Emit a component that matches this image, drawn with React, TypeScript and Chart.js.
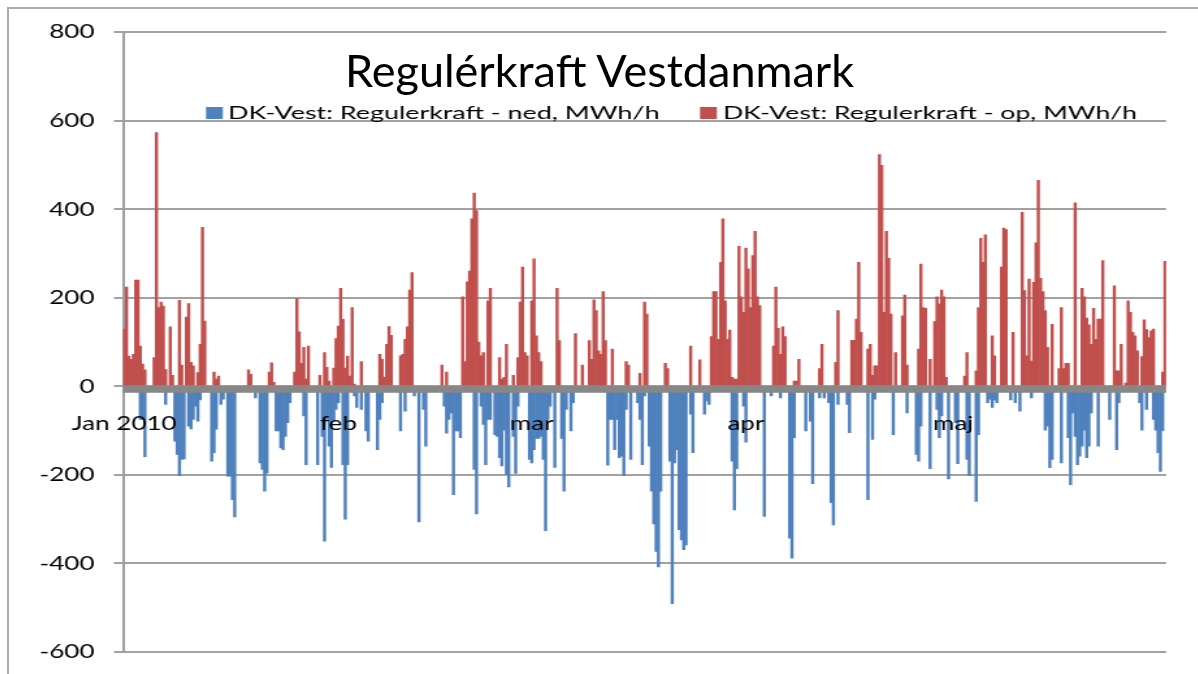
import { useEffect, useRef } from 'react';
import { Chart, registerables } from 'chart.js';

Chart.register(...registerables);

// ---------- data ----------
const monthNames = ['Jan 2010', 'feb', 'mar', 'apr', 'maj'];
const monthDays = [31, 28, 31, 30, 31];
const barsPerDay = 3;

const chartTitle = 'Regulérkraft Vestdanmark';
const legendDown = 'DK-Vest: Regulerkraft - ned, MWh/h';
const legendUp = 'DK-Vest: Regulerkraft - op, MWh/h';

const yMin = -600;
const yMax = 800;
const yStep = 200;

// Regulerkraft - op (MWh/h), per month
const upJan = [
  129, 224, 68, 61, 72, 240, 240, 91, 50, 37,
  0, 0, 0, 65, 573, 178, 190, 181, 38, 0,
  134, 25, 0, 0, 194, 48, 0, 156, 187, 54,
  46, 0, 31, 95, 359, 147, 0, 0, 0, 32,
  16, 23, 0, 0, 0, 0, 0, 0, 0, 0,
  0, 0, 0, 0, 37, 27, 0, 0, 0, 0,
  0, 0, 0, 32, 53, 9, 0, 0, 0, 0,
  0, 0, 0, 0, 32, 198, 123, 52, 88, 16,
  91, 0, 0, 0, 0, 25, 0, 76, 43, 12,
  0, 41, 108,
];
const upFeb = [
  136, 221, 151, 41, 68, 23, 178, 5, 0, 0,
  56, 0, 0, 0, 0, 0, 0, 0, 72, 61,
  21, 95, 135, 115, 0, 0, 0, 69, 72, 106,
  134, 217, 257, 0, 0, 0, 0, 0, 0, 0,
  0, 0, 0, 0, 0, 48, 0, 32, 0, 0,
  0, 0, 0, 0, 202, 56, 236, 260, 378, 436,
  397, 100, 69, 76, 0, 193, 221, 0, 0, 0,
  65, 16, 20, 95, 0, 0, 25, 0, 65, 190,
  269, 76, 69, 0,
];
const upMar = [
  193, 288, 114, 76, 56, 0, 0, 0, 0, 0,
  0, 221, 103, 0, 0, 0, 0, 0, 0, 119,
  0, 0, 48, 0, 0, 103, 61, 195, 171, 80,
  72, 214, 103, 0, 0, 84, 0, 0, 0, 0,
  0, 56, 48, 0, 0, 0, 0, 29, 0, 190,
  163, 0, 0, 0, 0, 0, 0, 0, 52, 40,
  0, 0, 0, 0, 0, 0, 0, 0, 0, 91,
  0, 0, 0, 60, 0, 0, 0, 0, 112, 214,
  214, 106, 280, 378, 193, 106, 127, 20, 16, 16,
  316, 202, 167,
];
const upApr = [
  312, 265, 178, 295, 350, 202, 182, 0, 0, 0,
  0, 0, 91, 224, 131, 72, 134, 112, 0, 0,
  0, 12, 12, 61, 0, 0, 0, 0, 0, 0,
  0, 0, 40, 95, 0, 0, 0, 0, 0, 54,
  171, 0, 0, 0, 0, 0, 104, 104, 152, 280,
  122, 0, 0, 84, 95, 25, 46, 46, 523, 499,
  167, 350, 289, 163, 0, 76, 0, 0, 159, 206,
  48, 0, 0, 0, 0, 84, 276, 178, 176, 0,
  61, 0, 146, 202, 186, 217, 202, 20, 0, 0,
];
const upMaj = [
  0, 0, 0, 0, 0, 23, 76, 0, 0, 0,
  35, 178, 334, 280, 342, 0, 0, 114, 69, 0,
  0, 269, 357, 354, 0, 0, 122, 0, 0, 0,
  393, 216, 69, 242, 57, 235, 324, 465, 244, 214,
  171, 88, 0, 140, 0, 0, 40, 178, 40, 52,
  52, 0, 0, 414, 0, 0, 221, 202, 154, 139,
  95, 176, 106, 152, 152, 284, 0, 0, 0, 0,
  227, 35, 35, 95, 0, 7, 193, 167, 122, 114,
  80, 0, 67, 150, 128, 110, 125, 129, 0, 0,
  0, 32, 282,
];

// Regulerkraft - ned (MWh/h), per month
const downJan = [
  0, 0, 0, 0, 0, 0, 0, -75, -75, -159,
  0, 0, 0, 0, 0, 0, 0, 0, -41, 0,
  0, 0, -124, -154, -202, -165, -164, 0, -90, -96,
  -75, -45, -79, -31, 0, 0, 0, 0, -169, -150,
  -97, 0, -41, -29, 0, -203, -203, -256, -295, 0,
  0, 0, 0, 0, 0, 0, 0, -26, 0, -173,
  -188, -237, -196, 0, 0, 0, -101, -101, -139, -143,
  -113, -82, -37, 0, 0, 0, 0, 0, -67, -177,
  0, 0, 0, 0, -177, 0, -113, -350, -75, -135,
  -183, -79, -52,
];
const downFeb = [
  -37, 0, -177, -300, -177, 0, 0, -22, -48, 0,
  -52, 0, -101, -124, 0, 0, 0, -143, -75, -37,
  0, 0, 0, 0, 0, 0, 0, -101, 0, -56,
  0, 0, 0, -22, 0, -306, 0, -52, -135, 0,
  0, 0, 0, 0, 0, 0, -45, -106, -75, -60,
  -245, -101, -101, -116, 0, 0, 0, 0, 0, -188,
  -288, 0, -45, -86, -177, -75, -75, 0, -109, -113,
  -161, -180, -99, -199, -227, 0, -113, -197, -45, 0,
  0, 0, 0, -165,
];
const downMar = [
  -173, -143, -118, -118, -113, -165, -326, -75, -45, 0,
  -183, 0, 0, -118, -237, -52, 0, -101, -37, 0,
  0, 0, 0, 0, 0, 0, 0, 0, 0, 0,
  0, 0, 0, -178, -75, -75, -143, -75, -161, -158,
  -202, -52, 0, -165, 0, 0, -37, -75, -177, -22,
  0, -135, -237, -311, -373, -408, -237, 0, 0, 0,
  -169, -491, -173, -143, -324, -347, -369, -358, 0, -63,
  -150, 0, 0, 0, 0, -63, -33, -41, 0, 0,
  0, 0, 0, 0, 0, 0, 0, -169, -279, -186,
  0, 0, -45,
];
const downApr = [
  -126, 0, 0, 0, 0, 0, 0, 0, -294, 0,
  0, -22, 0, 0, 0, -26, 0, 0, 0, -343,
  -388, -116, 0, 0, 0, 0, -101, 0, -79, -220,
  0, 0, -26, 0, -26, 0, -37, -263, -313, 0,
  -41, 0, 0, 0, -41, -105, 0, 0, 0, 0,
  0, 0, 0, -256, 0, -120, -29, 0, 0, 0,
  0, 0, 0, 0, -109, 0, 0, 0, 0, 0,
  -60, 0, 0, 0, -154, -169, -90, 0, 0, 0,
  -186, 0, 0, -52, -116, -67, 0, 0, -209, 0,
];
const downMaj = [
  0, -82, -175, 0, 0, 0, -165, -202, 0, 0,
  -260, -109, 0, 0, 0, -37, -29, -48, -31, -37,
  0, 0, 0, 0, 0, -31, 0, -37, 0, -56,
  0, 0, 0, 0, -26, 0, 0, 0, 0, 0,
  -99, -90, -184, -165, 0, 0, 0, -173, 0, 0,
  -116, -222, -60, -113, -177, -158, -135, -99, -161, -135,
  -60, 0, 0, -135, 0, 0, 0, 0, -75, 0,
  0, -143, -37, 0, 0, 0, 0, 0, 0, 0,
  0, -37, -99, 0, -52, 0, 0, -75, -99, -150,
  -192, -100, 0,
];

const upValues = [...upJan, ...upFeb, ...upMar, ...upApr, ...upMaj];
const downValues = [...downJan, ...downFeb, ...downMar, ...downApr, ...downMaj];

const categories: string[] = [];
monthNames.forEach((name, m) => {
  const n = monthDays[m] * barsPerDay;
  for (let i = 0; i < n; i++) categories.push(i === 0 ? name : '');
});

// ---------- styling ----------
const BLUE = '#4F81BD';
const RED = '#C0504D';
const GRID = '#a2a2a2';
const FONT = 'Lato, "Open Sans", sans-serif';
const STRETCH = 1.3; // the whole chart image is horizontally stretched

const zeroBand = {
  id: 'zeroBand',
  afterDatasetsDraw(chart: any) {
    const { ctx, chartArea, scales } = chart;
    const y0 = scales.y.getPixelForValue(0);
    ctx.save();
    ctx.fillStyle = '#878787';
    ctx.fillRect(chartArea.left, y0 - 0.5, chartArea.right - chartArea.left, 7);
    ctx.restore();
  },
};

const overlayLegend = {
  id: 'overlayLegend',
  afterDraw(chart: any) {
    const { ctx } = chart;
    const ds = chart.data.datasets;
    const items = [
      { text: ds[0].label, color: ds[0].backgroundColor, box: 152.3, tx: 169.2, w: 332 },
      { text: ds[1].label, color: ds[1].backgroundColor, box: 532.3, tx: 550, w: 318.5 },
    ];
    ctx.save();
    ctx.font = `17px ${FONT}`;
    ctx.textBaseline = 'alphabetic';
    ctx.textAlign = 'left';
    for (const it of items) {
      ctx.fillStyle = it.color;
      ctx.fillRect(it.box, 99, 13, 12);
      ctx.fillStyle = '#000';
      const mw = ctx.measureText(it.text).width;
      ctx.save();
      ctx.translate(it.tx, 111);
      ctx.scale(it.w / mw, 1);
      ctx.fillText(it.text, 0, 0);
      ctx.restore();
    }
    ctx.restore();
  },
};

export default function App() {
  const canvasRef = useRef<HTMLCanvasElement>(null);

  useEffect(() => {
    if (!canvasRef.current) return;
    const chart = new Chart(canvasRef.current, {
      type: 'bar',
      data: {
        labels: categories,
        datasets: [
          { label: legendDown, data: downValues, backgroundColor: BLUE, borderWidth: 0 },
          { label: legendUp, data: upValues, backgroundColor: RED, borderWidth: 0 },
        ],
      },
      options: {
        animation: false,
        responsive: true,
        maintainAspectRatio: false,
        devicePixelRatio: 1,
        layout: { padding: { left: 0, right: 22.7, top: 24, bottom: 22 } },
        datasets: {
          bar: { barPercentage: 1, categoryPercentage: 1, grouped: false } as any,
        },
        plugins: {
          legend: { display: false },
          title: { display: false },
          tooltip: { enabled: false },
        },
        scales: {
          x: {
            position: { y: 0 } as any,
            grid: { display: false, drawTicks: false },
            border: { display: false },
            ticks: {
              z: 1,
              autoSkip: false,
              maxRotation: 0,
              minRotation: 0,
              padding: 25,
              color: '#000',
              font: { family: FONT, size: 20 },
            },
          },
          y: {
            min: yMin,
            max: yMax,
            afterFit: (s: any) => {
              s.width = 88.5;
              s.paddingTop = 8;
              s.paddingBottom = 8;
            },
            ticks: {
              stepSize: yStep,
              padding: 15,
              color: '#000',
              font: { family: FONT, size: 20 },
            },
            grid: { color: GRID, lineWidth: 2, tickLength: 7 },
            border: { color: '#a0a0a0', width: 2 },
          },
        },
      },
      plugins: [zeroBand, overlayLegend],
    });
    return () => chart.destroy();
  }, []);

  return (
    <>
      <div
        style={{
          position: 'fixed', left: 7, top: 7, width: 1191, height: 667,
          borderLeft: '2px solid #aaaaaa', borderTop: '2px solid #aaaaaa', boxSizing: 'border-box',
        }}
      />
      <div
        style={{
          position: 'fixed', left: 8, top: 8, width: 915, height: 666,
          transform: `scaleX(${STRETCH})`, transformOrigin: '0 0',
        }}
      >
        <canvas ref={canvasRef} />
      </div>
      <div
        style={{
          position: 'fixed', left: 345, top: 48, fontFamily: FONT, fontSize: 45,
          lineHeight: 1, color: '#000', whiteSpace: 'nowrap',
        }}
      >
        {chartTitle}
      </div>
    </>
  );
}
